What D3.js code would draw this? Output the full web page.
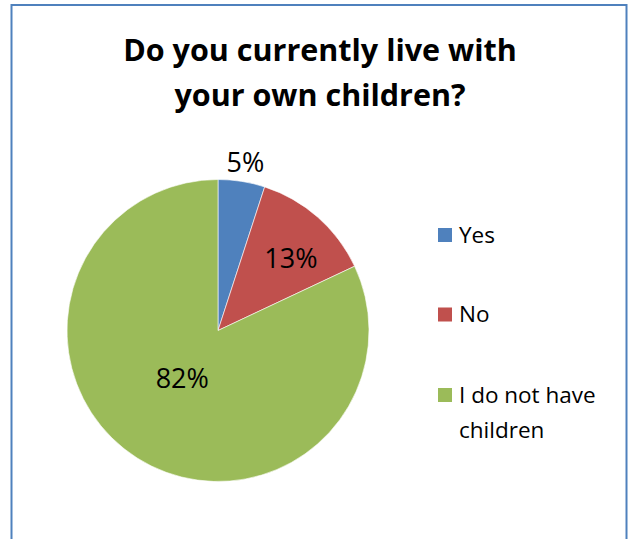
<!DOCTYPE html>
<html>
<head>
<meta charset="utf-8">
<script src="https://cdn.jsdelivr.net/npm/d3@7"></script>
<style>
  html, body { margin: 0; padding: 0; background: #fff; }
  svg { display: block; }
</style>
</head>
<body>
<svg id="chart" width="628" height="539"></svg>
<script>
// Survey answers and their shares of respondents (percent)
const categories = ["Yes", "No", "I do not have children"];
const shares = [5, 13, 82];
const sliceColors = ["#4F81BD", "#C0504D", "#9BBB59"];
const titleLines = ["Do you currently live with", "your own children?"];

const svg = d3.select("#chart");
const font = "'Open Sans', 'Noto Sans', sans-serif";

// Chart frame
svg.append("rect")
  .attr("x", 11.5).attr("y", 5)
  .attr("width", 615).attr("height", 560)
  .attr("fill", "#fff")
  .attr("stroke", "#4F81BD")
  .attr("stroke-width", 2);

// Title
svg.append("g").selectAll("text")
  .data(titleLines)
  .join("text")
  .attr("x", 320)
  .attr("y", (d, i) => 61 + i * 45)
  .attr("text-anchor", "middle")
  .attr("font-family", font)
  .attr("font-weight", "bold")
  .attr("font-size", 30.5)
  .attr("fill", "#000")
  .text(d => d);

// Pie
const cx = 218, cy = 330.5, radius = 151;
const color = d3.scaleOrdinal().domain(categories).range(sliceColors);
const pie = d3.pie().value(d => d.v).sort(null);
const data = categories.map((c, i) => ({ c, v: shares[i] }));
const arcs = pie(data);
const arc = d3.arc().innerRadius(0).outerRadius(radius);

const g = svg.append("g").attr("transform", `translate(${cx},${cy})`);
g.selectAll("path")
  .data(arcs)
  .join("path")
  .attr("d", arc)
  .attr("fill", d => color(d.data.c))
  .attr("stroke", "#fff")
  .attr("stroke-width", 0.6);

// Percentage labels: the small slice sits outside, the others inside
const labelPos = [
  d3.arc().innerRadius(radius * 1.12).outerRadius(radius * 1.12),
  d3.arc().innerRadius(radius * 0.6).outerRadius(radius * 0.6),
  d3.arc().innerRadius(radius * 0.3).outerRadius(radius * 0.3)
];
const labelShift = [[1, -2], [13, -5.5], [-11.5, 8.5]];
g.selectAll("text.pct")
  .data(arcs)
  .join("text")
  .attr("class", "pct")
  .attr("transform", (d, i) => {
    const [x, y] = labelPos[i].centroid(d);
    return `translate(${x + labelShift[i][0]},${y + labelShift[i][1]})`;
  })
  .attr("text-anchor", "middle")
  .attr("dominant-baseline", "central")
  .attr("font-family", font)
  .attr("font-size", 27)
  .attr("fill", "#000")
  .text(d => d.data.v + "%");

// Legend
const legendRows = [
  { c: categories[0], lines: ["Yes"], y: 235 },
  { c: categories[1], lines: ["No"], y: 314.5 },
  { c: categories[2], lines: ["I do not have", "children"], y: 395 }
];
const lg = svg.append("g");
const item = lg.selectAll("g").data(legendRows).join("g")
  .attr("transform", d => `translate(438,${d.y})`);
item.append("rect")
  .attr("x", 0).attr("y", -7)
  .attr("width", 14).attr("height", 14)
  .attr("fill", d => color(d.c));
item.append("text")
  .attr("font-family", font)
  .attr("font-size", 22.5)
  .attr("fill", "#000")
  .selectAll("tspan")
  .data(d => d.lines)
  .join("tspan")
  .attr("x", 21)
  .attr("y", (d, i) => 7.5 + i * 35)
  .text(d => d);
</script>
</body>
</html>
